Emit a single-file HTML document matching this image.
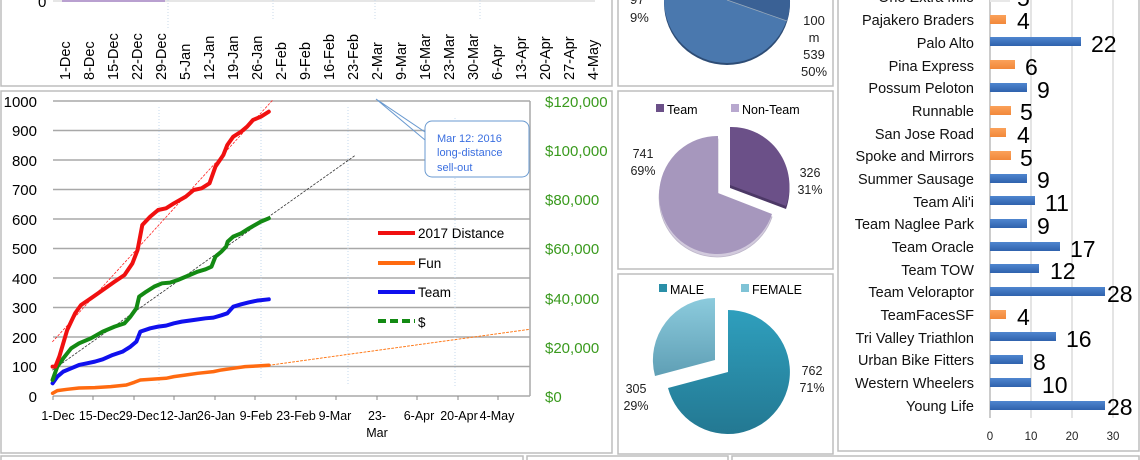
<!DOCTYPE html>
<html><head><meta charset="utf-8"><style>
html,body{margin:0;padding:0;background:#fff;}
svg{display:block;font-family:"Liberation Sans",sans-serif;}
</style></head><body>
<svg width="1140" height="460" viewBox="0 0 1140 460" xmlns="http://www.w3.org/2000/svg">
<defs>
<linearGradient id="bb" x1="0" y1="0" x2="0" y2="1"><stop offset="0" stop-color="#4f86cf"/><stop offset="1" stop-color="#2f62ad"/></linearGradient>
<linearGradient id="ob" x1="0" y1="0" x2="0" y2="1"><stop offset="0" stop-color="#fba15a"/><stop offset="1" stop-color="#f2883a"/></linearGradient>
<linearGradient id="tl" x1="0" y1="0" x2="0" y2="1"><stop offset="0" stop-color="#2f9fbd"/><stop offset="1" stop-color="#237892"/></linearGradient>
<linearGradient id="fl" x1="0" y1="0" x2="0" y2="1"><stop offset="0" stop-color="#8ccbdd"/><stop offset="1" stop-color="#5f9fb5"/></linearGradient>
</defs>
<rect width="1140" height="460" fill="#fff"/>
<g fill="none" stroke="#bdbdbd" stroke-width="1.5">
<rect x="1" y="-5" width="611" height="91"/>
<rect x="1" y="91" width="611" height="362"/>
<rect x="618" y="-5" width="215" height="91"/>
<rect x="618" y="91" width="215" height="178"/>
<rect x="618" y="274" width="215" height="180"/>
<rect x="838" y="-5" width="301" height="456"/>
<rect x="1" y="456" width="522" height="10"/>
<rect x="527" y="456" width="201" height="10"/>
<rect x="732" y="456" width="407" height="10"/>
</g>
<text x="38" y="7" font-size="15">0</text>
<line x1="53" y1="1" x2="595" y2="1" stroke="#ccc"/>
<line x1="62" y1="1" x2="165" y2="1" stroke="#b9a0d0" stroke-width="2"/>
<g stroke="#c8d8ea" stroke-dasharray="1 2"><line x1="168" y1="0" x2="168" y2="30"/><line x1="273" y1="0" x2="273" y2="20"/><line x1="375" y1="0" x2="375" y2="20"/><line x1="480" y1="0" x2="480" y2="20"/></g>
<g font-size="14.5" fill="#000">
<text transform="translate(70,80) rotate(-90)">1-Dec</text>
<text transform="translate(94,80) rotate(-90)">8-Dec</text>
<text transform="translate(118,80) rotate(-90)">15-Dec</text>
<text transform="translate(142,80) rotate(-90)">22-Dec</text>
<text transform="translate(166,80) rotate(-90)">29-Dec</text>
<text transform="translate(190,80) rotate(-90)">5-Jan</text>
<text transform="translate(214,80) rotate(-90)">12-Jan</text>
<text transform="translate(238,80) rotate(-90)">19-Jan</text>
<text transform="translate(262,80) rotate(-90)">26-Jan</text>
<text transform="translate(286,80) rotate(-90)">2-Feb</text>
<text transform="translate(310,80) rotate(-90)">9-Feb</text>
<text transform="translate(334,80) rotate(-90)">16-Feb</text>
<text transform="translate(358,80) rotate(-90)">23-Feb</text>
<text transform="translate(382,80) rotate(-90)">2-Mar</text>
<text transform="translate(406,80) rotate(-90)">9-Mar</text>
<text transform="translate(430,80) rotate(-90)">16-Mar</text>
<text transform="translate(454,80) rotate(-90)">23-Mar</text>
<text transform="translate(478,80) rotate(-90)">30-Mar</text>
<text transform="translate(502,80) rotate(-90)">6-Apr</text>
<text transform="translate(526,80) rotate(-90)">13-Apr</text>
<text transform="translate(550,80) rotate(-90)">20-Apr</text>
<text transform="translate(574,80) rotate(-90)">27-Apr</text>
<text transform="translate(598,80) rotate(-90)">4-May</text>
</g>
<g stroke="#a8a8a8" stroke-width="1.5">
<line x1="53" y1="101" x2="530" y2="101"/><line x1="53" y1="130.5" x2="530" y2="130.5"/>
<line x1="53" y1="160" x2="530" y2="160"/><line x1="53" y1="189.5" x2="530" y2="189.5"/>
<line x1="53" y1="219" x2="530" y2="219"/><line x1="53" y1="248.5" x2="530" y2="248.5"/>
<line x1="53" y1="278" x2="530" y2="278"/><line x1="53" y1="307.5" x2="530" y2="307.5"/>
<line x1="53" y1="337" x2="530" y2="337"/><line x1="53" y1="366.5" x2="530" y2="366.5"/>
<line x1="53" y1="396" x2="530" y2="396"/>
<line x1="530" y1="101" x2="530" y2="396"/>
</g>
<g stroke="#c5d8ec" stroke-dasharray="1 2">
<line x1="159" y1="107" x2="159" y2="385"/><line x1="261" y1="107" x2="261" y2="380"/>
<line x1="348" y1="107" x2="348" y2="386"/><line x1="455" y1="118" x2="455" y2="386"/>
</g>
<g stroke="#888"><line x1="53" y1="396" x2="53" y2="400"/><line x1="93" y1="396" x2="93" y2="400"/><line x1="134" y1="396" x2="134" y2="400"/><line x1="174" y1="396" x2="174" y2="400"/><line x1="215" y1="396" x2="215" y2="400"/><line x1="255" y1="396" x2="255" y2="400"/><line x1="296" y1="396" x2="296" y2="400"/><line x1="336" y1="396" x2="336" y2="400"/><line x1="377" y1="396" x2="377" y2="400"/><line x1="417" y1="396" x2="417" y2="400"/><line x1="458" y1="396" x2="458" y2="400"/><line x1="498" y1="396" x2="498" y2="400"/></g>
<g font-size="15" text-anchor="end">
<text x="37" y="107">1000</text><text x="37" y="136">900</text><text x="37" y="166">800</text><text x="37" y="195">700</text><text x="37" y="225">600</text><text x="37" y="254">500</text><text x="37" y="284">400</text><text x="37" y="313">300</text><text x="37" y="343">200</text><text x="37" y="372">100</text><text x="37" y="402">0</text>
</g>
<g font-size="15" fill="#3a9a1e">
<text x="545" y="107">$120,000</text><text x="545" y="156">$100,000</text><text x="545" y="205">$80,000</text><text x="545" y="254">$60,000</text><text x="545" y="304">$40,000</text><text x="545" y="353">$20,000</text><text x="545" y="402">$0</text>
</g>
<g font-size="12.5" text-anchor="middle">
<text x="58" y="420">1-Dec</text><text x="99" y="420">15-Dec</text><text x="139" y="420">29-Dec</text><text x="179" y="420">12-Jan</text><text x="216" y="420">26-Jan</text><text x="256" y="420">9-Feb</text><text x="296" y="420">23-Feb</text><text x="335" y="420">9-Mar</text><text x="377" y="420">23-</text><text x="377" y="437">Mar</text><text x="419" y="420">6-Apr</text><text x="459" y="420">20-Apr</text><text x="497" y="420">4-May</text>
</g>
<g transform="translate(0,90) scale(0.3953,0.3333)" fill="none" stroke-linejoin="round" stroke-linecap="round">
<polyline vector-effect="non-scaling-stroke" stroke="#f22" stroke-width="0.8" stroke-dasharray="2 2" points="133,755 690,30"/>
<polyline vector-effect="non-scaling-stroke" stroke="#333" stroke-width="0.8" stroke-dasharray="2 2" points="133,840 900,195"/>
<polyline vector-effect="non-scaling-stroke" stroke="#ff7a1a" stroke-width="1" stroke-dasharray="2 2" points="680,826 1340,718"/>
<polyline vector-effect="non-scaling-stroke" stroke="#ff6a10" stroke-width="3.5" points="133,910 145,902 170,898 200,894 240,893 280,890 320,885 340,877 355,870 420,865 440,860 470,855 500,850 540,845 560,840 590,835 620,830 650,828 680,826"/>
<polyline vector-effect="non-scaling-stroke" stroke="#1010ee" stroke-width="4" points="133,880 145,860 160,845 180,835 200,825 220,820 240,815 260,808 285,795 310,785 330,770 345,755 355,725 380,715 400,710 420,707 440,700 460,695 490,690 520,685 540,683 560,676 575,670 590,650 610,643 630,637 650,632 680,628"/>
<polyline vector-effect="non-scaling-stroke" stroke="#138a13" stroke-width="4" points="133,870 145,830 160,805 180,775 200,760 230,745 260,725 290,710 315,700 330,680 345,655 352,620 370,605 390,590 410,580 430,578 450,570 480,555 500,545 520,538 535,530 545,500 560,485 572,470 576,455 590,440 610,430 630,415 645,405 660,395 680,385"/>
<polyline vector-effect="non-scaling-stroke" stroke="#f01010" stroke-width="4" points="133,830 140,830 150,800 170,720 190,670 205,645 230,625 260,600 290,575 315,555 335,520 348,480 360,405 380,380 400,360 420,355 440,340 470,320 490,300 510,295 530,280 545,230 565,195 575,165 590,140 610,125 625,110 640,90 660,80 680,65"/>
</g>
<path d="M376,99 L425,132 M376,99 L425,140" stroke="#6a9ad0" fill="none"/>
<rect x="425" y="121" width="104" height="56" rx="7" fill="#fff" stroke="#6a9ad0"/>
<g font-size="11" fill="#3b6fe0"><text x="437" y="142">Mar 12: 2016</text><text x="437" y="156">long-distance</text><text x="437" y="171">sell-out</text></g>
<g stroke-width="4"><line x1="378" y1="233" x2="415" y2="233" stroke="#f01010"/><line x1="378" y1="263" x2="415" y2="263" stroke="#ff6a10"/><line x1="378" y1="292" x2="415" y2="292" stroke="#1010ee"/><line x1="378" y1="321" x2="415" y2="321" stroke="#138a13" stroke-dasharray="8 4"/></g>
<g font-size="13.5"><text x="418" y="238">2017 Distance</text><text x="418" y="268">Fun</text><text x="418" y="297">Team</text><text x="418" y="327">$</text></g>
<ellipse cx="727" cy="3" rx="63" ry="62" fill="#2d4c75"/>
<circle cx="727" cy="0" r="63" fill="#4a78ae"/>
<path d="M727,0 L787,21 A63,63 0 0 0 790,0 Z" fill="#3a6195"/>
<line x1="727" y1="0" x2="787" y2="21" stroke="#9ab" stroke-width="0.8"/>
<g font-size="13" fill="#222"><text x="630" y="22">9%</text><text x="814" y="25" text-anchor="middle">100</text><text x="814" y="42" text-anchor="middle">m</text><text x="814" y="59" text-anchor="middle">539</text><text x="814" y="76" text-anchor="middle">50%</text><text x="630" y="4">97</text></g>
<rect x="656" y="104" width="8" height="8" fill="#6b5088"/><text x="667" y="114" font-size="12.5">Team</text>
<rect x="731" y="104" width="8" height="8" fill="#b8a8cf"/><text x="742" y="114" font-size="12.5">Non-Team</text>
<path d="M718,193 L718,136 A58,59 0 1 0 772,214 Z" fill="#a697bd" stroke="#7d6f94" stroke-width="0.8" transform="translate(0,3)" opacity="0.5"/>
<path d="M718,193 L718,136 A58,59 0 1 0 772,214 Z" fill="#a697bd"/>
<path d="M730,185 L730,127 A58,59 0 0 1 786,206 Z" fill="#4c3866" transform="translate(0,3)"/>
<path d="M730,185 L730,127 A58,59 0 0 1 786,206 Z" fill="#6b5088"/>
<g font-size="12.5" fill="#222" text-anchor="middle"><text x="643" y="158">741</text><text x="643" y="175">69%</text><text x="810" y="177">326</text><text x="810" y="194">31%</text></g>
<rect x="659" y="284" width="8" height="8" fill="#2a8fa8"/><text x="670" y="294" font-size="12.5">MALE</text>
<rect x="741" y="284" width="8" height="8" fill="#7fc3d6"/><text x="752" y="294" font-size="12.5">FEMALE</text>
<path d="M728,372 L728,310 A62,62 0 1 1 668,388 Z" fill="url(#tl)"/>
<path d="M715,360 L655,376 A62,62 0 0 1 715,298 Z" fill="url(#fl)"/>
<g font-size="12.5" fill="#222" text-anchor="middle"><text x="812" y="375">762</text><text x="812" y="392">71%</text><text x="636" y="393">305</text><text x="636" y="410">29%</text></g>
<g stroke="#c8c8c8"><line x1="1031" y1="-5" x2="1031" y2="418"/><line x1="1072" y1="-5" x2="1072" y2="418"/><line x1="1113" y1="-5" x2="1113" y2="418"/></g>
<line x1="990" y1="-5" x2="990" y2="418" stroke="#999"/>
<g font-size="11.5" text-anchor="middle" fill="#222"><text x="990" y="440">0</text><text x="1031" y="440">10</text><text x="1072" y="440">20</text><text x="1113" y="440">30</text></g>
<g font-size="14.5" text-anchor="end" fill="#111">
<text x="974" y="2">One Extra Mile</text>
<text x="974" y="25">Pajakero Braders</text><text x="974" y="48">Palo Alto</text><text x="974" y="71">Pina Express</text><text x="974" y="93">Possum Peloton</text><text x="974" y="116">Runnable</text><text x="974" y="139">San Jose Road</text><text x="974" y="161">Spoke and Mirrors</text><text x="974" y="184">Summer Sausage</text><text x="974" y="207">Team Ali'i</text><text x="974" y="229">Team Naglee Park</text><text x="974" y="252">Team Oracle</text><text x="974" y="275">Team TOW</text><text x="974" y="297">Team Veloraptor</text><text x="974" y="320">TeamFacesSF</text><text x="974" y="343">Tri Valley Triathlon</text><text x="974" y="365">Urban Bike Fitters</text><text x="974" y="388">Western Wheelers</text><text x="974" y="411">Young Life</text>
</g>
<g>
<rect x="990" y="-7" width="20" height="9" fill="#e8e8e8"/>
<rect x="990" y="15" width="16" height="9" fill="url(#ob)"/>
<rect x="990" y="37" width="91" height="9" fill="url(#bb)"/>
<rect x="990" y="60" width="25" height="9" fill="url(#ob)"/>
<rect x="990" y="83" width="37" height="9" fill="url(#bb)"/>
<rect x="990" y="106" width="21" height="9" fill="url(#ob)"/>
<rect x="990" y="128" width="16" height="9" fill="url(#ob)"/>
<rect x="990" y="151" width="21" height="9" fill="url(#ob)"/>
<rect x="990" y="174" width="37" height="9" fill="url(#bb)"/>
<rect x="990" y="196" width="45" height="9" fill="url(#bb)"/>
<rect x="990" y="219" width="37" height="9" fill="url(#bb)"/>
<rect x="990" y="242" width="70" height="9" fill="url(#bb)"/>
<rect x="990" y="264" width="49" height="9" fill="url(#bb)"/>
<rect x="990" y="287" width="115" height="9" fill="url(#bb)"/>
<rect x="990" y="310" width="16" height="9" fill="url(#ob)"/>
<rect x="990" y="332" width="66" height="9" fill="url(#bb)"/>
<rect x="990" y="355" width="33" height="9" fill="url(#bb)"/>
<rect x="990" y="378" width="41" height="9" fill="url(#bb)"/>
<rect x="990" y="401" width="115" height="9" fill="url(#bb)"/>
</g>
<g font-size="23" fill="#000">
<text x="1017" y="6">5</text>
<text x="1017" y="29">4</text><text x="1091" y="52">22</text><text x="1025" y="75">6</text><text x="1037" y="98">9</text><text x="1020" y="120">5</text><text x="1017" y="143">4</text><text x="1020" y="166">5</text><text x="1037" y="188">9</text><text x="1045" y="211">11</text><text x="1037" y="234">9</text><text x="1070" y="257">17</text><text x="1050" y="279">12</text><text x="1107" y="302">28</text><text x="1017" y="325">4</text><text x="1066" y="347">16</text><text x="1033" y="370">8</text><text x="1042" y="393">10</text><text x="1107" y="415">28</text>
</g>
</svg>
</body></html>
